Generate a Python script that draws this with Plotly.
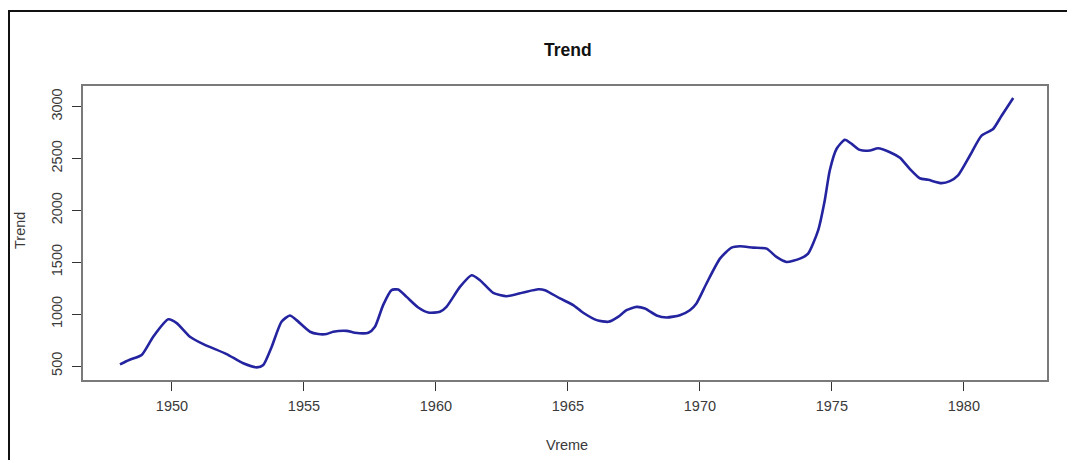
import plotly.graph_objects as go

# Data (decimal year, trend value)
years = [1948.03, 1948.4, 1948.85, 1949.29, 1949.86, 1950.18, 1950.68, 1951.19, 1952.07,
         1952.7, 1953.21, 1953.46, 1953.78, 1954.15, 1954.47, 1954.72, 1955.23, 1955.54,
         1955.86, 1956.11, 1956.62, 1956.93, 1957.44, 1957.69, 1958.0, 1958.32, 1958.57,
         1958.89, 1959.33, 1959.71, 1960.15, 1960.4, 1960.91, 1961.35, 1961.67, 1962.17,
         1962.68, 1963.31, 1963.88, 1964.13, 1964.7, 1965.2, 1965.58, 1966.09, 1966.53,
         1966.9, 1967.22, 1967.6, 1967.92, 1968.36, 1968.74, 1969.24, 1969.62, 1969.87,
         1970.25, 1970.76, 1971.2, 1971.52, 1972.02, 1972.53, 1972.9, 1973.28, 1973.79,
         1974.1, 1974.48, 1974.73, 1974.92, 1975.18, 1975.49, 1975.75, 1976.06, 1976.44,
         1976.75, 1977.2, 1977.58, 1977.95, 1978.33, 1978.65, 1979.15, 1979.47, 1979.78,
         1980.23, 1980.67, 1981.11, 1981.43, 1981.87]
trend = [516, 560, 606, 782, 950, 913, 782, 711, 615,
         526, 487, 510, 686, 926, 987, 942, 830, 808,
         808, 830, 839, 820, 820, 878, 1087, 1231, 1237,
         1166, 1064, 1016, 1022, 1070, 1262, 1375, 1327, 1205,
         1173, 1209, 1240, 1231, 1151, 1087, 1013, 942, 926,
         974, 1038, 1070, 1054, 987, 968, 990, 1038, 1103,
         1295, 1535, 1641, 1654, 1641, 1631, 1551, 1503, 1535,
         1583, 1808, 2096, 2385, 2594, 2680, 2641, 2583, 2577,
         2599, 2561, 2507, 2400, 2310, 2295, 2263, 2282, 2337,
         2529, 2721, 2785, 2913, 3083]

x_ticks = [1950, 1955, 1960, 1965, 1970, 1975, 1980]
y_ticks = [500, 1000, 1500, 2000, 2500, 3000]

FONT = "Liberation Sans, Arial, sans-serif"
OFF = 8  # page body margin offset
W, H = 1059, 452
L, T = 83 - OFF, 86 - OFF
PW, PH = 964, 294
R = W - L - PW
B = H - T - PH

fig = go.Figure()
fig.add_trace(go.Scatter(
    x=years, y=trend, mode="lines",
    line=dict(color="#2424a0", width=2.6, shape="spline", smoothing=0.6),
    showlegend=False, hoverinfo="x+y",
))

axis_common = dict(
    showgrid=False, zeroline=False,
    showline=True, linecolor="#7a7a7a", linewidth=1.5, mirror=True,
    ticks="outside", ticklen=9, tickwidth=1, tickcolor="#333333",
    tickfont=dict(family=FONT, size=14.5, color="#3a3a3a"),
)

fig.update_layout(
    width=W, height=H,
    margin=dict(l=L, r=R, t=T, b=B, pad=0),
    paper_bgcolor="white", plot_bgcolor="white",
    xaxis=dict(range=[1946.63, 1983.15], tickvals=x_ticks,
               ticklabelstandoff=3, **axis_common),
    yaxis=dict(range=[365, 3199], tickvals=y_ticks, tickangle=-90,
               ticklabelstandoff=4, **axis_common),
    font=dict(family=FONT),
)


def px(xp):
    # xp: pixel x in the screenshot
    return (xp - OFF - L) / PW


def py(yp):
    # yp: pixel y in the screenshot
    return (T + PH - (yp - OFF)) / PH


# Title and axis titles
fig.add_annotation(text="<b>Trend</b>", x=px(568), y=py(50), xref="paper", yref="paper",
                   showarrow=False, font=dict(family=FONT, size=17.5, color="#111111"),
                   xanchor="center", yanchor="middle")
fig.add_annotation(text="Vreme", x=px(567), y=py(445), xref="paper", yref="paper",
                   showarrow=False, font=dict(family=FONT, size=14.5, color="#3a3a3a"),
                   xanchor="center", yanchor="middle")
fig.add_annotation(text="Trend", x=px(20), y=py(230), xref="paper", yref="paper",
                   showarrow=False, textangle=-90,
                   font=dict(family=FONT, size=14.5, color="#3a3a3a"),
                   xanchor="center", yanchor="middle")

# Outer black frame (left and top edges visible)
fig.add_shape(type="rect", xref="paper", yref="paper",
              x0=px(9), x1=px(1100), y0=py(500), y1=py(11),
              line=dict(color="#111111", width=2), fillcolor="rgba(0,0,0,0)", layer="above")

fig.write_html("out.html")
